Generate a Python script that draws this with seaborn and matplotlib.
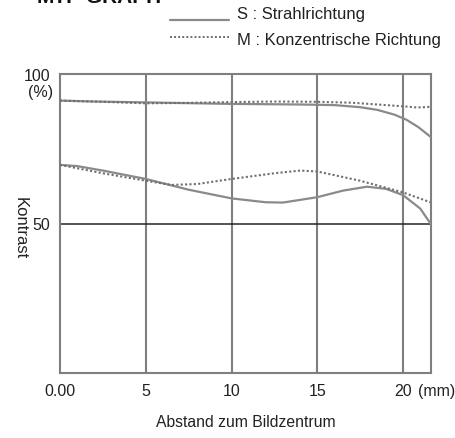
import matplotlib
matplotlib.use('Agg')
import matplotlib.pyplot as plt
import seaborn as sns
import pandas as pd

# Values (distance in mm, contrast in %)
s_top_x = [0, 2, 4, 6, 8, 10, 12, 14, 16, 17.5, 18.5, 19.5, 20.2, 20.9, 21.6]
s_top_y = [91.1, 90.8, 90.6, 90.4, 90.2, 90.0, 89.9, 89.8, 89.6, 88.9, 88.0, 86.4, 84.7, 82.2, 79.0]

m_top_x = [0, 3, 5, 7, 10, 12.5, 15, 17, 18.5, 20, 20.8, 21.6]
m_top_y = [91.1, 90.6, 90.2, 90.3, 90.6, 90.8, 90.7, 90.4, 89.8, 89.2, 88.8, 89.0]

s_low_x = [0, 1, 2.5, 5, 7.5, 10, 12, 13, 15, 16.5, 17.9, 19, 20, 21, 21.6]
s_low_y = [69.6, 69.2, 67.7, 64.9, 61.3, 58.4, 57.1, 57.0, 58.8, 61.0, 62.3, 61.6, 59.5, 55.0, 50.0]

m_low_x = [0, 2.5, 5, 6.5, 8, 10, 12.5, 14, 15, 17.5, 20, 21.6]
m_low_y = [69.6, 66.8, 64.3, 62.9, 63.2, 64.9, 66.8, 67.7, 67.4, 64.3, 60.4, 57.1]

x_ticks = [0, 5, 10, 15, 20]
x_tick_labels = ['0.00', '5', '10', '15', '20']

sns.set_style('white')
plt.rcParams['font.family'] = ['Liberation Sans', 'DejaVu Sans']

grey = '#8a8a8a'
fig = plt.figure(figsize=(4.56, 4.39), dpi=100)
ax = fig.add_axes([60 / 456, 1 - 374 / 439, (431 - 60) / 456, (374 - 75) / 439])

# vertical grid lines and the 50 % line
for xv in [5, 10, 15, 20]:
    ax.axvline(xv, color='#7f7f7f', lw=1.5, zorder=1)
ax.axhline(50, color='#2b2222', lw=1.1, zorder=1)

solid = pd.DataFrame({'x': s_top_x, 'y': s_top_y})
sns.lineplot(data=solid, x='x', y='y', ax=ax, color=grey, lw=1.6, sort=False, zorder=3)
solid = pd.DataFrame({'x': s_low_x, 'y': s_low_y})
sns.lineplot(data=solid, x='x', y='y', ax=ax, color=grey, lw=1.6, sort=False, zorder=3)
dotted = pd.DataFrame({'x': m_top_x, 'y': m_top_y})
sns.lineplot(data=dotted, x='x', y='y', ax=ax, color='#6e6e6e', lw=1.5, sort=False,
             linestyle=(0, (1, 1.1)), zorder=3)
dotted = pd.DataFrame({'x': m_low_x, 'y': m_low_y})
sns.lineplot(data=dotted, x='x', y='y', ax=ax, color='#6e6e6e', lw=1.5, sort=False,
             linestyle=(0, (1, 1.1)), zorder=3)

ax.set_xlim(0, 21.63)
ax.set_ylim(0, 100)
for sp in ax.spines.values():
    sp.set_color('#7f7f7f')
    sp.set_linewidth(1.5)
    sp.set_visible(True)

ax.set_xticks(x_ticks)
ax.set_xticklabels(x_tick_labels, fontsize=11.5, color='#222222')
ax.tick_params(axis='x', length=0, pad=7)
ax.set_yticks([50, 100])
ax.set_yticklabels(['50', '100'], fontsize=11.5, color='#222222')
ax.tick_params(axis='y', length=4, width=2.5, color='#aaaaaa', pad=3)
ax.set_xlabel('Abstand zum Bildzentrum', fontsize=11.3, color='#222222', labelpad=12)
ax.set_ylabel('')

fig.text(53 / 456, 1 - 93 / 439, '(%)', fontsize=11.5, color='#222222',
         ha='right', va='center')
fig.text(437 / 456, 1 - 392 / 439, '(mm)', fontsize=11.5, color='#222222',
         ha='center', va='center')
fig.text(20 / 456, 1 - 228 / 439, 'Kontrast', fontsize=12, color='#222222',
         ha='center', va='center', rotation=270)

# legend drawn by hand above the plot
fig.add_artist(plt.Line2D([170 / 456, 229 / 456], [1 - 21 / 439, 1 - 21 / 439],
                          color=grey, lw=1.6))
fig.add_artist(plt.Line2D([170 / 456, 229 / 456], [1 - 38 / 439, 1 - 38 / 439],
                          color='#6e6e6e', lw=1.4, linestyle=(0, (1, 1.1))))
fig.text(237 / 456, 1 - 15 / 439, 'S : Strahlrichtung', fontsize=12,
         color='#222222', ha='left', va='center')
fig.text(237 / 456, 1 - 40 / 439, 'M : Konzentrische Richtung', fontsize=12,
         color='#222222', ha='left', va='center')

# title, cut off at the top edge as in the source
fig.text(37 / 456, 1 - 3 / 439, 'MTF-GRAPH', fontsize=15, fontweight='bold',
         color='#111111', ha='left', va='baseline')

fig.savefig('out.png', dpi=100)
